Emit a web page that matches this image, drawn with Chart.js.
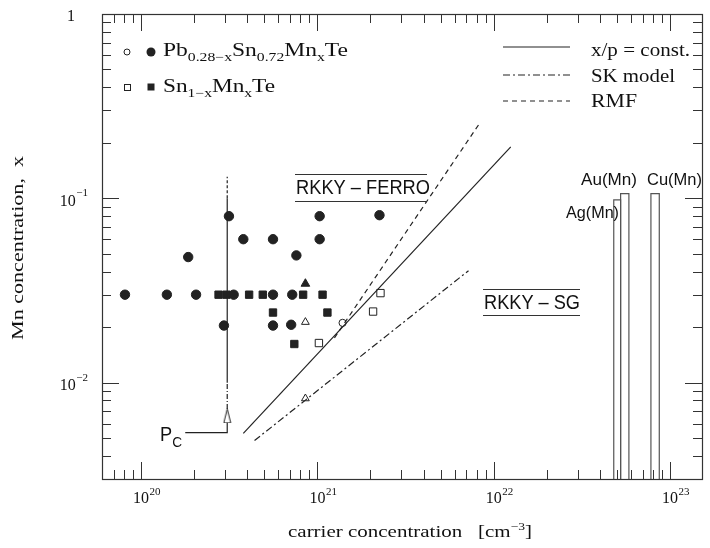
<!DOCTYPE html>
<html>
<head>
<meta charset="utf-8">
<script src="https://cdn.jsdelivr.net/npm/chart.js@4"></script>
<style>
    body { margin: 0; background: #fff; }
    canvas { display: block; }
</style>
</head>
<body>
<canvas id="chart" width="710" height="548"></canvas>
<script>
// AXIS RANGE
const xMin = 6e19;
const xMax = 1.52e23;
const yMin = 0.003;
const yMax = 1;

// TICK LABELS
const xTickVals = [1e20, 1e21, 1e22, 1e23];
const xTickExp = ["20", "21", "22", "23"];
const yTickVals = [1, 0.1, 0.01];
const yTickExp = ["", "\u22121", "\u22122"];

// Pb(0.28-x)Sn(0.72)Mn(x)Te, filled circles
const pbX = [8.1e19, 1.4e20, 2.05e20, 3.35e20, 5.6e20, 7.2e20,
             3.15e20, 3.8e20, 5.6e20, 1.85e20, 7.6e20, 1.03e21, 1.03e21,
             2.95e20, 5.6e20, 7.1e20, 2.25e21];
const pbY = [0.03, 0.03, 0.03, 0.03, 0.03, 0.03,
             0.08, 0.06, 0.06, 0.048, 0.049, 0.08, 0.06,
             0.0204, 0.0204, 0.0206, 0.081];
// open circles
const pbOpenX = [1.39e21];
const pbOpenY = [0.0211];

// Sn(1-x)Mn(x)Te, filled squares
const snX = [2.75e20, 3.05e20, 4.1e20, 4.9e20, 8.3e20, 1.07e21, 5.6e20, 1.14e21, 7.4e20];
const snY = [0.03, 0.03, 0.03, 0.03, 0.03, 0.03, 0.024, 0.024, 0.0162];
// open squares
const snOpenX = [1.02e21, 2.07e21, 2.28e21];
const snOpenY = [0.0164, 0.0243, 0.0306];

// triangles
const triX = [8.55e20];
const triY = [0.0344];
const triOpenX = [8.55e20, 8.55e20];
const triOpenY = [0.0213, 0.0082];

// model lines
const xpX = [3.8e20, 1.25e22];
const xpY = [0.0053, 0.19];
const skX = [4.4e20, 7.2e21];
const skY = [0.00485, 0.0405];
const rmfX = [1.25e21, 8.2e21];
const rmfY = [0.0175, 0.25];

// P_c marker
const pcX = 3.08e20;
const pcBracketX = [1.78e20, 3.08e20, 3.08e20];
const pcBracketY = [0.00535, 0.00535, 0.00606];
const pcArrowY = 0.0066;
const pcDashDotY = [0.0072, 0.01];
const pcSolidY = [0.01, 0.1];
const pcDashY = [0.1, 0.131];

// noble metal spin glasses
const barNames = ["Ag(Mn)", "Au(Mn)", "Cu(Mn)"];
const barLeft = [4.8e22, 5.25e22, 7.8e22];
const barRight = [5.25e22, 5.85e22, 8.7e22];
const barTop = [0.098, 0.106, 0.106];

const ink = "#222";
const serif = "'Liberation Serif', 'DejaVu Serif', serif";
const sans = "'Liberation Sans', Arial, sans-serif";

function pts(xs, ys) {
    return xs.map((x, i) => ({ x: x, y: ys[i] }));
}

function markers(data, style, radius, filled) {
    return {
        data: data,
        pointStyle: style,
        pointRadius: radius,
        pointBackgroundColor: filled ? ink : "#fff",
        pointBorderColor: ink,
        pointBorderWidth: 1,
        showLine: false
    };
}

function line(data, dash, color) {
    return {
        data: data,
        showLine: true,
        borderColor: color || ink,
        borderWidth: 1.2,
        borderDash: dash || [],
        pointRadius: 0,
        fill: false
    };
}

// open arrow head used at P_c
const arrow = document.createElement("canvas");
arrow.width = 9;
arrow.height = 15;
(function () {
    const c = arrow.getContext("2d");
    c.strokeStyle = ink;
    c.lineWidth = 1;
    c.beginPath();
    c.moveTo(4.5, 0.5);
    c.lineTo(1, 14.5);
    c.lineTo(8, 14.5);
    c.closePath();
    c.stroke();
})();

const datasets = [
    line(pts(xpX, xpY)),
    line(pts(skX, skY), [7, 3, 2, 3]),
    line(pts(rmfX, rmfY), [5, 4]),
    line(pts(pcBracketX, pcBracketY)),
    line(pts([pcX, pcX], pcDashDotY), [5, 2, 1, 2]),
    line(pts([pcX, pcX], pcSolidY)),
    line(pts([pcX, pcX], pcDashY), [3, 2]),
    markers([{ x: pcX, y: pcArrowY }], arrow, 7, false),
    markers(pts(pbX, pbY), "circle", 4.7, true),
    markers(pts(pbOpenX, pbOpenY), "circle", 3.6, false),
    markers(pts(snX, snY), "rect", 5.2, true),
    markers(pts(snOpenX, snOpenY), "rect", 5.2, false),
    markers(pts(triX, triY), "triangle", 5, true),
    markers(pts(triOpenX, triOpenY), "triangle", 4.5, false)
];

barNames.forEach((name, i) => {
    datasets.push(line([
        { x: barLeft[i], y: yMin },
        { x: barLeft[i], y: barTop[i] },
        { x: barRight[i], y: barTop[i] },
        { x: barRight[i], y: yMin }
    ], [], "#555"));
});

// TEXT HELPERS
function fitText(ctx, str, x, y, w, font, center) {
    ctx.save();
    ctx.font = font;
    const m = ctx.measureText(str).width;
    ctx.translate(center ? x - w / 2 : x, y);
    ctx.scale(w / m, 1);
    ctx.textAlign = "left";
    ctx.textBaseline = "middle";
    ctx.fillText(str, 0, 0);
    ctx.restore();
}

// parts: [text, size, dy]
function richText(ctx, parts, x, y, w, family) {
    ctx.save();
    let total = 0;
    parts.forEach(p => {
        ctx.font = p[1] + "px " + family;
        total += ctx.measureText(p[0]).width;
    });
    ctx.translate(x, y);
    ctx.scale(w / total, 1);
    ctx.textBaseline = "alphabetic";
    ctx.textAlign = "left";
    let cx = 0;
    parts.forEach(p => {
        ctx.font = p[1] + "px " + family;
        ctx.fillText(p[0], cx, p[2]);
        cx += ctx.measureText(p[0]).width;
    });
    ctx.restore();
}

function seg(ctx, x1, y1, x2, y2) {
    ctx.beginPath();
    ctx.moveTo(x1, y1);
    ctx.lineTo(x2, y2);
    ctx.stroke();
}

const decor = {
    id: "decor",
    afterDraw(chart) {
        const ctx = chart.ctx;
        const a = chart.chartArea;
        const xs = chart.scales.x;
        const ys = chart.scales.y;

        ctx.save();
        ctx.strokeStyle = "#333";
        ctx.lineWidth = 1.2;
        ctx.strokeRect(a.left + 0.5, a.top + 0.5, a.right - a.left, a.bottom - a.top);

        // inward ticks
        ctx.lineWidth = 1;
        for (let d = 19; d <= 23; d++) {
            for (let m = 1; m <= 9; m++) {
                const v = m * Math.pow(10, d);
                if (v < xMin || v > xMax) continue;
                const px = Math.round(xs.getPixelForValue(v)) + 0.5;
                const len = m === 1 ? 17 : 9;
                seg(ctx, px, a.bottom, px, a.bottom - len);
                seg(ctx, px, a.top, px, a.top + len);
            }
        }
        for (let d = -3; d <= 0; d++) {
            for (let m = 1; m <= 9; m++) {
                const v = m * Math.pow(10, d);
                if (v < yMin * 0.999 || v > yMax * 1.001) continue;
                const py = Math.round(ys.getPixelForValue(v)) + 0.5;
                const len = m === 1 ? 17 : 9;
                seg(ctx, a.left, py, a.left + len, py);
                seg(ctx, a.right, py, a.right - len, py);
            }
        }

        ctx.fillStyle = "#111";
        ctx.textBaseline = "middle";

        // x tick labels
        xTickVals.forEach((v, i) => {
            const px = xs.getPixelForValue(v);
            ctx.font = "16px " + serif;
            ctx.textAlign = "center";
            ctx.fillText("10", px, 499);
            const w = ctx.measureText("10").width;
            ctx.font = "11px " + serif;
            ctx.textAlign = "left";
            ctx.fillText(xTickExp[i], px + w / 2 + 0.5, 492);
        });

        // y tick labels
        yTickVals.forEach((v, i) => {
            const py = ys.getPixelForValue(v);
            if (!yTickExp[i]) {
                ctx.font = "16px " + serif;
                ctx.textAlign = "right";
                ctx.fillText("1", 75, py + 3);
                return;
            }
            ctx.font = "11px " + serif;
            ctx.textAlign = "right";
            ctx.fillText(yTickExp[i], 88, py - 5);
            const we = ctx.measureText(yTickExp[i]).width;
            ctx.font = "16px " + serif;
            ctx.fillText("10", 88 - we - 0.5, py + 3);
        });

        // axis titles
        ctx.save();
        ctx.translate(19, 248);
        ctx.rotate(-Math.PI / 2);
        fitText(ctx, "Mn concentration,  x", 0, 0, 184, "17px " + serif, true);
        ctx.restore();
        richText(ctx, [["carrier concentration   [cm", 17, 0], ["\u22123", 11, -7], ["]", 17, 0]],
            288, 537, 244, serif);

        // legend, left
        ctx.strokeStyle = ink;
        ctx.fillStyle = ink;
        ctx.beginPath(); ctx.arc(127, 52, 3, 0, Math.PI * 2); ctx.stroke();
        ctx.beginPath(); ctx.arc(151, 52, 4.5, 0, Math.PI * 2); ctx.fill();
        ctx.strokeRect(124.5, 84.5, 6, 6);
        ctx.fillRect(147.5, 83.5, 7, 7);
        ctx.fillStyle = "#111";
        richText(ctx, [["Pb", 18, 0], ["0.28\u2212x", 12, 5], ["Sn", 18, 0], ["0.72", 12, 5],
            ["Mn", 18, 0], ["x", 12, 5], ["Te", 18, 0]], 163, 56, 185, serif);
        richText(ctx, [["Sn", 18, 0], ["1\u2212x", 12, 5], ["Mn", 18, 0], ["x", 12, 5], ["Te", 18, 0]],
            163, 92, 112, serif);

        // legend, right
        ctx.lineWidth = 1.2;
        seg(ctx, 503, 47, 570, 47);
        ctx.setLineDash([7, 3, 2, 3]);
        seg(ctx, 503, 75, 570, 75);
        ctx.setLineDash([5, 4]);
        seg(ctx, 503, 101, 570, 101);
        ctx.setLineDash([]);
        fitText(ctx, "x/p = const.", 591, 51, 99, "18px " + serif);
        fitText(ctx, "SK model", 591, 77, 84, "18px " + serif);
        fitText(ctx, "RMF", 591, 102, 46, "18px " + serif);

        // regions
        ctx.lineWidth = 1;
        ctx.strokeStyle = "#333";
        seg(ctx, 295, 174.5, 427, 174.5);
        seg(ctx, 295, 201.5, 427, 201.5);
        fitText(ctx, "RKKY \u2013 FERRO", 296, 188, 134, "20px " + sans);
        seg(ctx, 483, 289.5, 580, 289.5);
        seg(ctx, 483, 315.5, 580, 315.5);
        fitText(ctx, "RKKY \u2013 SG", 484, 303, 96, "20px " + sans);

        // bar labels
        fitText(ctx, barNames[0], 566, 213, 53, "17px " + sans);
        fitText(ctx, barNames[1], 581, 180, 56, "17px " + sans);
        fitText(ctx, barNames[2], 647, 180, 55, "17px " + sans);

        // P_c label
        richText(ctx, [["P", 20, 0], ["C", 15, 6], ], 160, 441, 22, sans);
        ctx.restore();
    }
};

new Chart(document.getElementById("chart"), {
    type: "scatter",
    data: { datasets: datasets },
    options: {
        responsive: false,
        animation: false,
        layout: { padding: { left: 102, top: 14, right: -6, bottom: 69 } },
        plugins: {
            legend: { display: false },
            tooltip: { enabled: false }
        },
        scales: {
            x: { type: "logarithmic", min: xMin, max: xMax, display: false },
            y: { type: "logarithmic", min: yMin, max: yMax, display: false }
        }
    },
    plugins: [decor]
});
</script>
</body>
</html>
